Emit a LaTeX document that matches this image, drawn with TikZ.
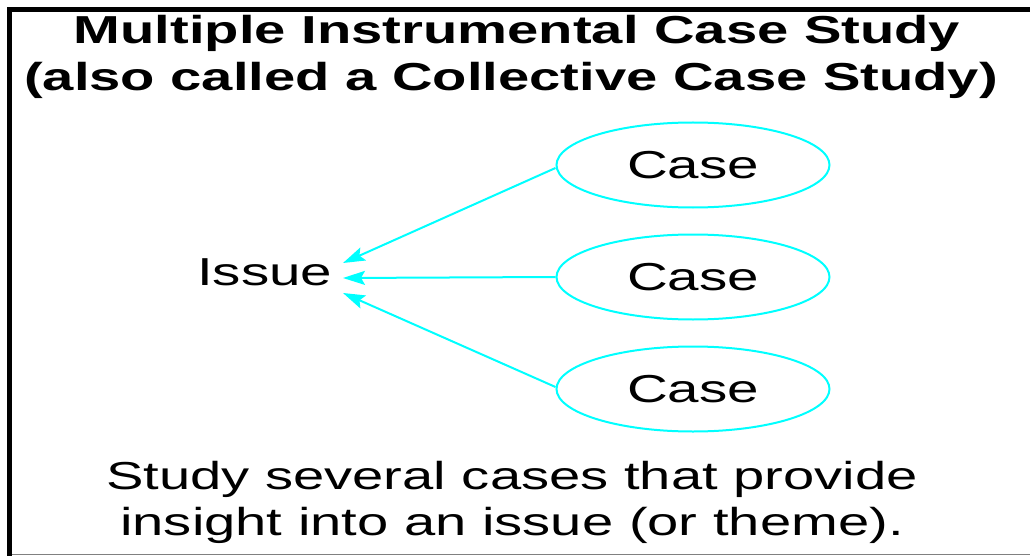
\documentclass[tikz,border=0pt]{standalone}
\usepackage{fontspec}
\setmainfont{Liberation Sans}[FakeStretch=1.44]
\newfontfamily\labelfont{Liberation Sans}[FakeStretch=1.45]
\usetikzlibrary{shapes.geometric,arrows.meta}
\definecolor{linkcyan}{RGB}{0,255,255}
\begin{document}
\begin{tikzpicture}[x=1pt,y=-1pt,
  heading/.style={font=\fontsize{39}{46}\selectfont\bfseries, anchor=base},
  caption/.style={font=\fontsize{39}{46}\selectfont, anchor=base},
  label/.style={font=\labelfont\fontsize{39}{44}\selectfont},
  casenode/.style={ellipse, draw=linkcyan, line width=2pt, minimum width=273pt,
    minimum height=85pt, inner sep=0pt, font=\labelfont\fontsize{39}{44}\selectfont},
  link/.style={draw=linkcyan, line width=2pt,
    -{Stealth[length=22pt,width=14pt,inset=4pt]}}]
  \useasboundingbox (0,0) rectangle (1030,556);
  \fill[white] (0,0) rectangle (1030,556);
  % frame
  \draw[line width=5pt] (9.5,556) -- (9.5,9.5) -- (1030,9.5);
  \draw[gray, line width=1.2pt] (12,554.5) -- (1030,554.5);
  % heading
  \node[heading] (t1) at (517,44) {Multiple Instrumental Case Study};
  \node[heading] (t2) at (511,91) {(also called a Collective Case Study)};
  % issue and cases
  \node[label, anchor=base west, inner sep=0pt] (issue) at (197,285) {Issue};
  \coordinate (tipA) at (343,263);
  \coordinate (tipB) at (343,278);
  \coordinate (tipC) at (343,293);
  \node[casenode] (c1) at (693,165) {Case};
  \node[casenode] (c2) at (693,277) {Case};
  \node[casenode] (c3) at (693,389) {Case};
  \draw[link] ([yshift=-3pt]c1.west) -- (tipA);
  \draw[link] (c2.west) -- (tipB);
  \draw[link] ([yshift=2pt]c3.west) -- (tipC);
  % caption
  \node[caption] (b1) at (512,489) {Study several cases that provide};
  \node[caption] (b2) at (512,535) {insight into an issue (or theme).};
\end{tikzpicture}
\end{document}
